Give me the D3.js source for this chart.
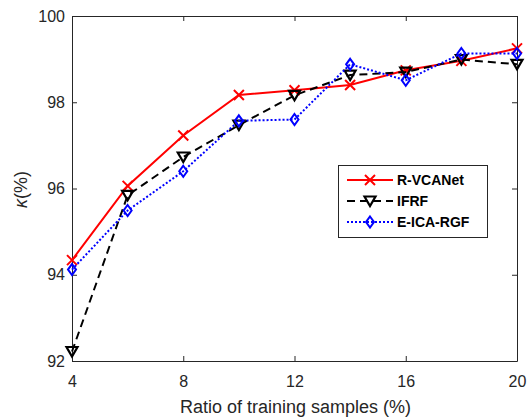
<!DOCTYPE html>
<html>
<head>
<meta charset="utf-8">
<script src="https://cdn.jsdelivr.net/npm/d3@7"></script>
<style>
  body { margin: 0; background: #fff; }
  text { font-family: "Liberation Sans", Arial, Helvetica, sans-serif; }
</style>
</head>
<body>
<div id="chart"></div>
<script>
// data
const ratios = [4, 6, 8, 10, 12, 14, 16, 18, 20];
const rvcanet = [94.34, 96.06, 97.23, 98.17, 98.28, 98.40, 98.74, 98.96, 99.25];
const ifrf = [92.22, 95.84, 96.73, 97.47, 98.16, 98.63, 98.70, 98.99, 98.88];
const eicargf = [94.12, 95.49, 96.40, 97.57, 97.60, 98.88, 98.51, 99.13, 99.13];
const xTicks = [4, 8, 12, 16, 20];
const yTicks = [92, 94, 96, 98, 100];
const seriesNames = ["R-VCANet", "IFRF", "E-ICA-RGF"];

const W = 527, H = 417;
const margin = {top: 16, right: 10, bottom: 56, left: 72};
const w = W - margin.left - margin.right;
const h = H - margin.top - margin.bottom;
const axisCol = "#262626";

const svg = d3.select("#chart").append("svg")
    .attr("width", W).attr("height", H);
const g = svg.append("g")
    .attr("transform", `translate(${margin.left},${margin.top})`);

const x = d3.scaleLinear().domain([4, 20]).range([0, w]);
const y = d3.scaleLinear().domain([92, 100]).range([h, 0]);

// axes with inward ticks, box on all four sides
function styleAxis(sel) {
  sel.select(".domain").attr("stroke", axisCol);
  sel.selectAll(".tick line").attr("stroke", axisCol);
  sel.selectAll(".tick text").attr("fill", axisCol)
      .style("font-size", "16px")
      .style("font-family", "'Liberation Sans', Arial, sans-serif");
}
g.append("g").attr("transform", `translate(0,${h})`)
    .call(d3.axisBottom(x).tickValues(xTicks).tickSizeInner(-5).tickSizeOuter(0).tickPadding(15))
    .call(styleAxis);
g.append("g")
    .call(d3.axisLeft(y).tickValues(yTicks).tickSizeInner(-5).tickSizeOuter(0).tickPadding(7))
    .call(styleAxis);
g.append("g")
    .call(d3.axisTop(x).tickValues(xTicks).tickSizeInner(-5).tickSizeOuter(0).tickFormat(""))
    .call(styleAxis);
g.append("g").attr("transform", `translate(${w},0)`)
    .call(d3.axisRight(y).tickValues(yTicks).tickSizeInner(-5).tickSizeOuter(0).tickFormat(""))
    .call(styleAxis);

// axis titles
g.append("text")
    .attr("x", w / 2 + 1).attr("y", h + 52)
    .attr("text-anchor", "middle")
    .attr("fill", axisCol)
    .style("font-size", "18px")
    .text("Ratio of training samples (%)");
const yl = g.append("text")
    .attr("transform", `translate(-45,${h / 2 + 1}) rotate(-90)`)
    .attr("text-anchor", "middle")
    .attr("fill", axisCol)
    .style("font-size", "18px");
yl.append("tspan").style("font-style", "italic").text("κ");
yl.append("tspan").text("(%)");

// marker drawing helpers
function drawMarker(sel, kind, color) {
  if (kind === "x") {
    sel.append("path").attr("d", "M-5,-5L5,5M-5,5L5,-5")
        .attr("stroke", color).attr("stroke-width", 2).attr("fill", "none");
  } else if (kind === "tri") {
    sel.append("path").attr("d", "M-5.5,-4.5L5.5,-4.5L0,5Z")
        .attr("stroke", color).attr("stroke-width", 2.2).attr("fill", "none")
        .attr("stroke-linejoin", "miter");
  } else {
    sel.append("path").attr("d", "M0,-5.5L4,0L0,5.5L-4,0Z")
        .attr("stroke", color).attr("stroke-width", 2).attr("fill", "none");
  }
}

const series = [
  {name: seriesNames[0], vals: rvcanet, color: "#ff0000", dash: null, marker: "x"},
  {name: seriesNames[1], vals: ifrf, color: "#000000", dash: "8,5", marker: "tri"},
  {name: seriesNames[2], vals: eicargf, color: "#0000ff", dash: "2,2", marker: "dia"}
];

const line = d3.line().x(d => x(d[0])).y(d => y(d[1]));

series.forEach(s => {
  const pts = ratios.map((r, i) => [r, s.vals[i]]);
  g.append("path")
      .attr("d", line(pts))
      .attr("fill", "none")
      .attr("stroke", s.color)
      .attr("stroke-width", 2)
      .attr("stroke-dasharray", s.dash);
  pts.forEach(p => {
    const m = g.append("g").attr("transform", `translate(${x(p[0])},${y(p[1])})`);
    drawMarker(m, s.marker, s.color);
  });
});

// legend
const lg = svg.append("g").attr("transform", "translate(338,165)");
lg.append("rect").attr("x", 0.5).attr("y", 0.5).attr("width", 149).attr("height", 72)
    .attr("fill", "#fff").attr("stroke", axisCol).attr("stroke-width", 1);
series.forEach((s, i) => {
  const ry = 15 + i * 21;
  lg.append("line").attr("x1", 9).attr("x2", 55).attr("y1", ry).attr("y2", ry)
      .attr("stroke", s.color).attr("stroke-width", 2)
      .attr("stroke-dasharray", s.dash);
  const m = lg.append("g").attr("transform", `translate(32,${ry})`);
  drawMarker(m, s.marker, s.color);
  lg.append("text").attr("x", 59).attr("y", ry + 5)
      .style("font-size", "14px").style("font-weight", "bold")
      .attr("fill", "#000").text(s.name);
});
</script>
</body>
</html>
